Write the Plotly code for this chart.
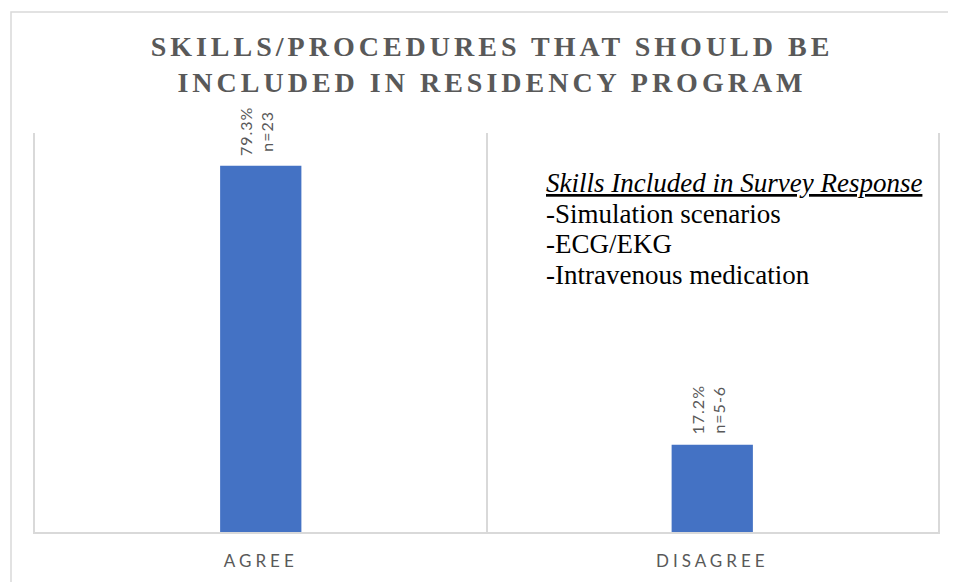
import plotly.graph_objects as go

categories = ["AGREE", "DISAGREE"]
bar_values = [79.3, 18.9]
pct_labels = ["79.3%", "17.2%"]
n_labels = ["n=23", "n=5-6"]
title_lines = ["SKILLS/PROCEDURES THAT SHOULD BE", "INCLUDED IN RESIDENCY PROGRAM"]
note_heading = "Skills Included in Survey Response"
note_items = ["-Simulation scenarios", "-ECG/EKG", "-Intravenous medication"]

OFF = 8  # page body margin
W, H = 956 - OFF, 582 - OFF
# plot-area edges in reference pixels
PL, PR, PT, PB = 35, 938, 133, 532
L, R, T, B = PL - OFF, W - (PR - OFF), PT - OFF, H - (PB - OFF)
pw, ph = W - L - R, H - T - B

def px_x(p):
    return (p - PL) / pw

def px_y(p):
    return (PB - p) / ph

def spaced(s, px):
    return f'<span style="letter-spacing:{px}px">{s}</span>'

GRAY = "#595959"
GRID = "#d9d9d9"

fig = go.Figure()
fig.add_trace(go.Bar(
    x=categories, y=bar_values,
    marker=dict(color="#4472C4", line=dict(width=0)),
    width=0.18,
    hoverinfo="skip",
))

# rotated value labels above the bars
for c, v, p, n in zip(categories, bar_values, pct_labels, n_labels):
    fig.add_annotation(
        x=c, y=v, xref="x", yref="y",
        text=spaced(p, 1) + "<br>" + spaced(n, 1),
        textangle=-90, showarrow=False,
        xanchor="center", yanchor="bottom", yshift=8, xshift=-4,
        font=dict(family="Lato, Open Sans, sans-serif", size=16, color=GRAY),
    )

# text box
serif = "Liberation Serif, Times New Roman, serif"
note_lines = ["<i><u>" + note_heading + "</u></i>"] + note_items
for i, line in enumerate(note_lines):
    fig.add_annotation(
        xref="paper", yref="paper",
        x=px_x(544), y=px_y(183 + 30.5 * i),
        xanchor="left", yanchor="middle", align="left",
        text=line, showarrow=False,
        font=dict(family=serif, size=27, color="#000000"),
    )

# outer chart-area border (extends past the right/bottom edge)
fig.add_shape(type="rect", xref="paper", yref="paper",
              x0=px_x(11), x1=px_x(1000), y0=px_y(12), y1=px_y(640),
              line=dict(color=GRID, width=1.5), fillcolor="rgba(0,0,0,0)")

fig.update_layout(
    width=W, height=H,
    margin=dict(l=L, r=R, t=T, b=B, autoexpand=False),
    paper_bgcolor="white", plot_bgcolor="white",
    showlegend=False,
    title=dict(
        text="<br>".join("<b>" + spaced(t, 4) + "</b>" for t in title_lines),
        x=px_x(492), xref="paper", xanchor="center",
        y=1 - (56 - OFF) / H, yref="container", yanchor="top",
        font=dict(family=serif, size=28, color=GRAY),
    ),
    xaxis=dict(
        tickson="boundaries", showgrid=True, gridcolor=GRID, gridwidth=1.5,
        showline=True, linecolor=GRID, linewidth=1.5,
        ticks="", ticklabelstandoff=13,
        tickvals=categories, ticktext=[spaced(c, 4) for c in categories],
        tickfont=dict(family="Lato, Open Sans, sans-serif", size=17, color=GRAY),
        range=[-0.5, 1.5], fixedrange=True,
    ),
    yaxis=dict(
        range=[0, 86.4], showgrid=False, zeroline=False, showticklabels=False,
        showline=True, mirror=True, linecolor=GRID, linewidth=1.5,
        ticks="", fixedrange=True,
    ),
)

fig.write_html("out.html")
